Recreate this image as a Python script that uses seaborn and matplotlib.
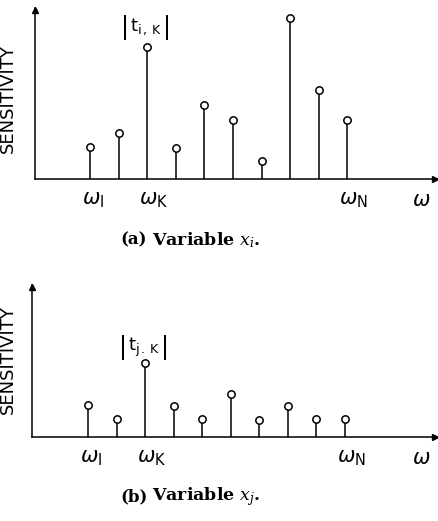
import numpy as np
import pandas as pd
import matplotlib
matplotlib.use("Agg")
import matplotlib.pyplot as plt
import seaborn as sns

# ---- data ----
freq_index = [1, 2, 3, 4, 5, 6, 7, 8, 9, 10]
sens_a = [32, 46, 132, 31, 74, 59, 18, 161, 89, 59]
sens_b = [32, 18, 74, 31, 18, 43, 17, 31, 18, 18]
tick_pos = [1, 3, 10]
tick_labels = [r"$\omega_{\mathrm{I}}$", r"$\omega_{\mathrm{K}}$", r"$\omega_{\mathrm{N}}$"]
axis_name = r"$\omega$"
ylabel = "SENSITIVITY"
peak_labels = [r"$\mathrm{t}_{\mathrm{i\,,\,K}}$", r"$\mathrm{t}_{\mathrm{j\,.\,K}}$"]
captions = ["(a)", "(b)"]
caption_vars = [r"Variable $x_i$.", r"Variable $x_j$."]

sns.set_style("white")
plt.rcParams["font.family"] = ["DejaVu Sans"]
plt.rcParams["text.color"] = "black"
plt.rcParams["axes.labelcolor"] = "black"

W, H = 438, 521
fig = plt.figure(figsize=(W / 100, H / 100), dpi=100)


def make_panel(values, left_px, base_px, top_px, first_px, step_px, peak_label, cap, capvar,
               label_y_px, cap_y_px, peak_y_px, ylab_y):
    left = left_px / W
    bottom = 1 - base_px / H
    width = (W - 1 - left_px) / W
    height = (base_px - top_px) / H
    ax = fig.add_axes([left, bottom, width, height])
    x0 = 1 - (first_px - left_px) / step_px
    x1 = 1 + (W - 1 - first_px) / step_px
    ax.set_xlim(x0, x1)
    ax.set_ylim(0, base_px - top_px)
    df = pd.DataFrame({"w": freq_index, "s": values})
    ax.vlines(df["w"], 0, df["s"], color="black", lw=1.1)
    sns.scatterplot(data=df, x="w", y="s", ax=ax, marker="o", s=28,
                    facecolor="white", edgecolor="black", linewidth=1.1, zorder=3)
    for sp in ["top", "right"]:
        ax.spines[sp].set_visible(False)
    for sp in ["left", "bottom"]:
        ax.spines[sp].set_color("black")
        ax.spines[sp].set_linewidth(1.1)
    ax.set_xticks([])
    ax.set_yticks([])
    ax.set_xlabel("")
    ax.set_ylabel(ylabel, fontsize=13, family="DejaVu Sans", color="black")
    ax.yaxis.set_label_coords((17 - left_px) / (W - 1 - left_px), ylab_y)
    ax.plot(0.995, 0, ">k", transform=ax.transAxes, clip_on=False, ms=4)
    ax.plot(0, 0.99, "^k", transform=ax.transAxes, clip_on=False, ms=4)
    # omega labels
    ly = -(label_y_px - base_px) / (base_px - top_px)
    for p, t in zip(tick_pos, tick_labels):
        ax.text(p - 8 / step_px, ly, t, transform=ax.get_xaxis_transform(), ha="left",
                va="center", fontsize=15, math_fontfamily="dejavusans")
    ax.text(1 + (421 - first_px) / step_px, ly, axis_name, transform=ax.get_xaxis_transform(),
            ha="center", va="center", fontsize=15, math_fontfamily="dejavusans")
    # peak label: |t_{.,K}|
    py = base_px - peak_y_px
    ax.text(3 - 22 / step_px, py, "|", ha="center", va="center", fontsize=17)
    ax.text(3 + 20 / step_px, py, "|", ha="center", va="center", fontsize=17)
    ax.text(3 - 1 / step_px, py, peak_label, ha="center", va="center", fontsize=13,
            math_fontfamily="dejavusans")
    # caption
    cy = 1 - cap_y_px / H
    fig.text(120 / W, cy, cap, ha="left", va="center", fontsize=12,
             family="DejaVu Serif", weight="bold")
    fig.text(152 / W, cy, capvar, ha="left", va="center", fontsize=12.5,
             family="DejaVu Serif", weight="bold", math_fontfamily="dejavuserif")
    return ax


make_panel(sens_a, 35, 179, 8, 90, 28.6, peak_labels[0], captions[0], caption_vars[0],
           200, 240, 27, 0.47)
make_panel(sens_b, 32, 437, 285, 88, 28.55, peak_labels[1], captions[1], caption_vars[1],
           458, 497, 347, 0.507)

fig.savefig("out.png", dpi=100)
